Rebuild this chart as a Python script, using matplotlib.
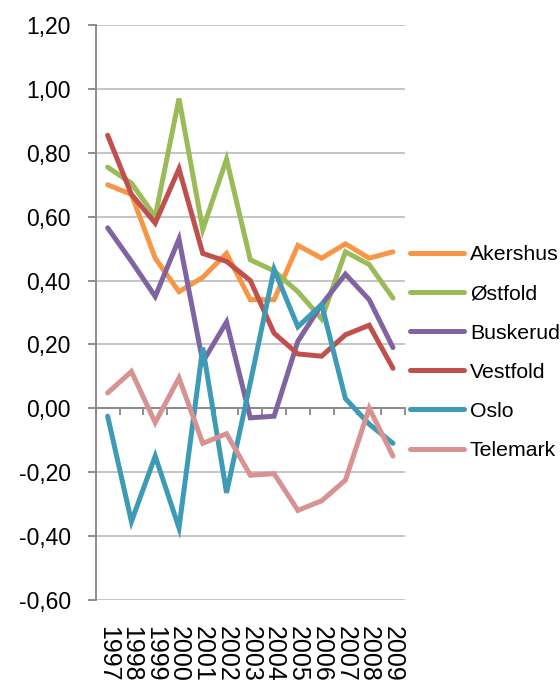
import numpy as np
import matplotlib
matplotlib.use("Agg")
import matplotlib.pyplot as plt

# data ***********************************************************************
years = ["1997", "1998", "1999", "2000", "2001", "2002", "2003",
         "2004", "2005", "2006", "2007", "2008", "2009"]

akershus = [0.70, 0.67, 0.47, 0.365, 0.41, 0.485, 0.34, 0.34, 0.51, 0.47, 0.515, 0.47, 0.49]
ostfold = [0.755, 0.705, 0.60, 0.97, 0.56, 0.78, 0.465, 0.43, 0.365, 0.28, 0.49, 0.45, 0.345]
buskerud = [0.565, 0.46, 0.35, 0.53, 0.145, 0.27, -0.03, -0.025, 0.21, 0.325, 0.42, 0.34, 0.19]
vestfold = [0.855, 0.67, 0.58, 0.75, 0.485, 0.46, 0.40, 0.235, 0.17, 0.163, 0.23, 0.26, 0.125]
oslo = [-0.025, -0.355, -0.15, -0.375, 0.19, -0.265, 0.08, 0.435, 0.255, 0.325, 0.03, -0.05, -0.11]
telemark = [0.048, 0.115, -0.045, 0.095, -0.11, -0.08, -0.21, -0.205, -0.32, -0.29, -0.225, 0.0, -0.15]

names = ["Akershus", "Østfold", "Buskerud", "Vestfold", "Oslo", "Telemark"]
colors = ["#F79646", "#9BBB59", "#8064A2", "#C0504D", "#3E9BB5", "#D69391"]
y_ticks = [-0.6, -0.4, -0.2, 0.0, 0.2, 0.4, 0.6, 0.8, 1.0, 1.2]

# plot ***********************************************************************
plt.rcParams["font.family"] = ["Liberation Sans", "DejaVu Sans"]

fig = plt.figure(figsize=(5.6, 6.8), dpi=100)
ax = fig.add_axes([0.171, 0.118, 0.552, 0.845])

ind = np.arange(len(years))
series = [akershus, ostfold, buskerud, vestfold, oslo, telemark]
lines = []
for vals, name, col in zip(series, names, colors):
    ln, = ax.plot(ind, vals, color=col, linewidth=3.6, solid_joinstyle="miter",
                  solid_capstyle="round", label=name, zorder=3)
    lines.append(ln)

ax.set_xlim(-0.5, len(years) - 0.5)
ax.set_ylim(-0.6, 1.2)
ax.set_yticks(y_ticks)
ax.set_yticklabels([("%.2f" % v).replace(".", ",") for v in y_ticks], fontsize=16.5)
ax.yaxis.grid(True, color="#C0C0C0", linewidth=1.3)
ax.set_axisbelow(True)

for s in ["top", "right"]:
    ax.spines[s].set_visible(False)
ax.spines["left"].set_color("#868686")
ax.spines["left"].set_linewidth(1.3)
ax.spines["bottom"].set_position(("data", 0))
ax.spines["bottom"].set_color("#868686")
ax.spines["bottom"].set_linewidth(1.3)
ax.tick_params(axis="y", length=6, color="#868686", width=1.3, pad=12)

ax.set_xticks(np.arange(-0.5, len(years), 1.0))
ax.set_xticklabels([])
ax.tick_params(axis="x", length=5, color="#868686", width=1.3)

for i, yr in enumerate(years):
    ax.text(i, -0.045, yr, transform=ax.get_xaxis_transform(), rotation=-90,
            ha="center", va="top", fontsize=18)

fig.legend(handles=lines, loc="upper left", bbox_to_anchor=(0.717, 0.652),
           frameon=False, fontsize=15.3, handlelength=2.54, handletextpad=0.28,
           labelspacing=0.95, borderaxespad=0)

fig.savefig("out.png", dpi=100)
